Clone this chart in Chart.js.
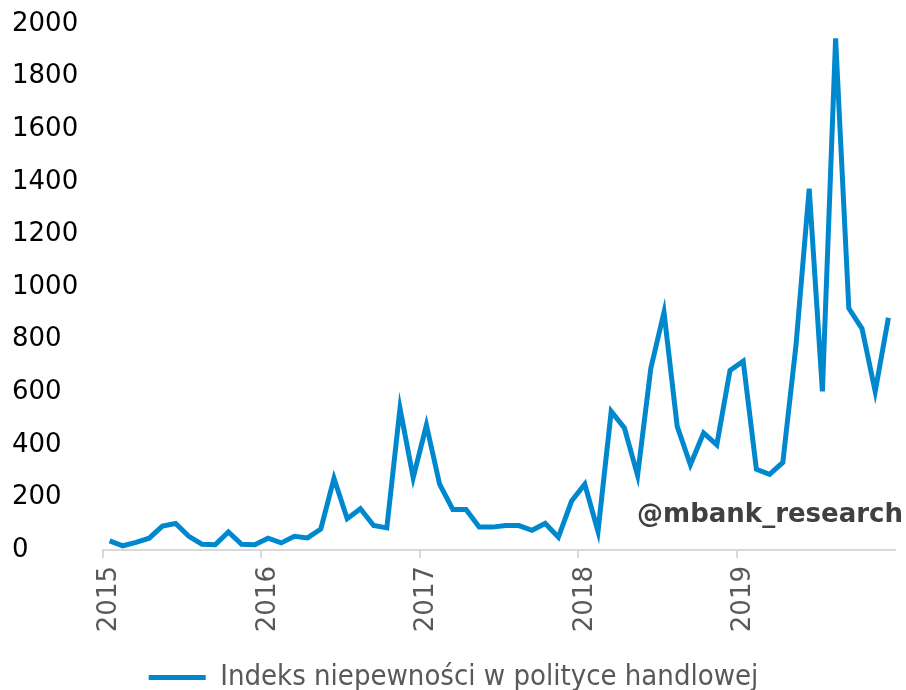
<!DOCTYPE html>
<html>
<head>
<meta charset="utf-8">
<script src="https://cdn.jsdelivr.net/npm/chart.js@4"></script>
<style>
  html, body { margin: 0; padding: 0; background: #fff; }
  #wrap { width: 906px; height: 690px; position: relative; }
</style>
</head>
<body>
<div id="wrap"><canvas id="tpuChart"></canvas></div>
<script>
// monthly data, Jan 2015 - Dec 2019
const years = ["2015", "2016", "2017", "2018", "2019"];
const values2015 = [35, 16, 29, 45, 91, 101, 52, 22, 20, 69, 22, 20];
const values2016 = [45, 27, 52, 46, 80, 272, 119, 157, 93, 84, 539, 275];
const values2017 = [475, 250, 154, 154, 87, 87, 93, 93, 75, 101, 49, 186];
const values2018 = [250, 71, 527, 464, 284, 690, 904, 470, 324, 445, 400, 683];
const values2019 = [718, 307, 288, 333, 779, 1374, 603, 1945, 919, 842, 603, 883];
const seriesName = "Indeks niepewności w polityce handlowej";

const labels = [];
years.forEach(function (y) {
  for (let m = 1; m <= 12; m++) labels.push(y + "-" + (m < 10 ? "0" + m : m));
});
const values = [].concat(values2015, values2016, values2017, values2018, values2019);

const watermark = {
  id: "watermark",
  afterDraw: function (chart) {
    const ctx = chart.ctx;
    ctx.save();
    ctx.font = "bold 26px 'DejaVu Sans'";
    ctx.fillStyle = "#404040";
    ctx.textAlign = "right";
    ctx.textBaseline = "middle";
    ctx.fillText("@mbank_research", 903, 515);
    ctx.restore();
  },
};

new Chart(document.getElementById("tpuChart"), {
  type: "line",
  data: {
    labels: labels,
    datasets: [
      {
        label: seriesName,
        data: values,
        borderColor: "#0088CE",
        backgroundColor: "#0088CE",
        borderWidth: 5,
        pointRadius: 0,
        tension: 0,
        fill: false,
      },
    ],
  },
  options: {
    responsive: true,
    maintainAspectRatio: false,
    animation: false,
    layout: { padding: { left: 12, right: 11, top: 24, bottom: -12 } },
    plugins: {
      tooltip: { enabled: false },
      legend: {
        position: "bottom",
        labels: {
          usePointStyle: true,
          pointStyle: "line",
          pointStyleWidth: 57,
          color: "#595959",
          font: { family: "'DejaVu Sans Condensed', 'DejaVu Sans'", size: 29, lineHeight: 1 },
          padding: 1,
        },
      },
    },
    scales: {
      x: {
        offset: true,
        afterFit: function (scale) {
          scale.paddingLeft = 0;
          scale.paddingRight = 0;
          scale.height = 112;
        },
        grid: {
          offset: true,
          drawOnChartArea: false,
          drawTicks: true,
          tickLength: 8,
          lineWidth: 2,
          tickColor: function (c) { return c.index % 12 === 0 ? "#d9d9d9" : "rgba(0,0,0,0)"; },
          color: "rgba(0,0,0,0)",
        },
        border: { color: "#d9d9d9", width: 2 },
        ticks: {
          autoSkip: false,
          minRotation: 90,
          maxRotation: 90,
          padding: 8,
          color: "#595959",
          font: { family: "'DejaVu Sans'", size: 26 },
          callback: function (v, i) { return i % 12 === 0 ? labels[i].slice(0, 4) : ""; },
        },
      },
      y: {
        min: 0,
        max: 2000,
        grid: { display: false },
        border: { display: false },
        afterFit: function (scale) { scale.width = 91; },
        ticks: {
          stepSize: 200,
          crossAlign: "far",
          color: "#000",
          font: { family: "'DejaVu Sans'", size: 26 },
          callback: function (v) { return String(v); },
        },
      },
    },
  },
  plugins: [watermark],
});
</script>
</body>
</html>
